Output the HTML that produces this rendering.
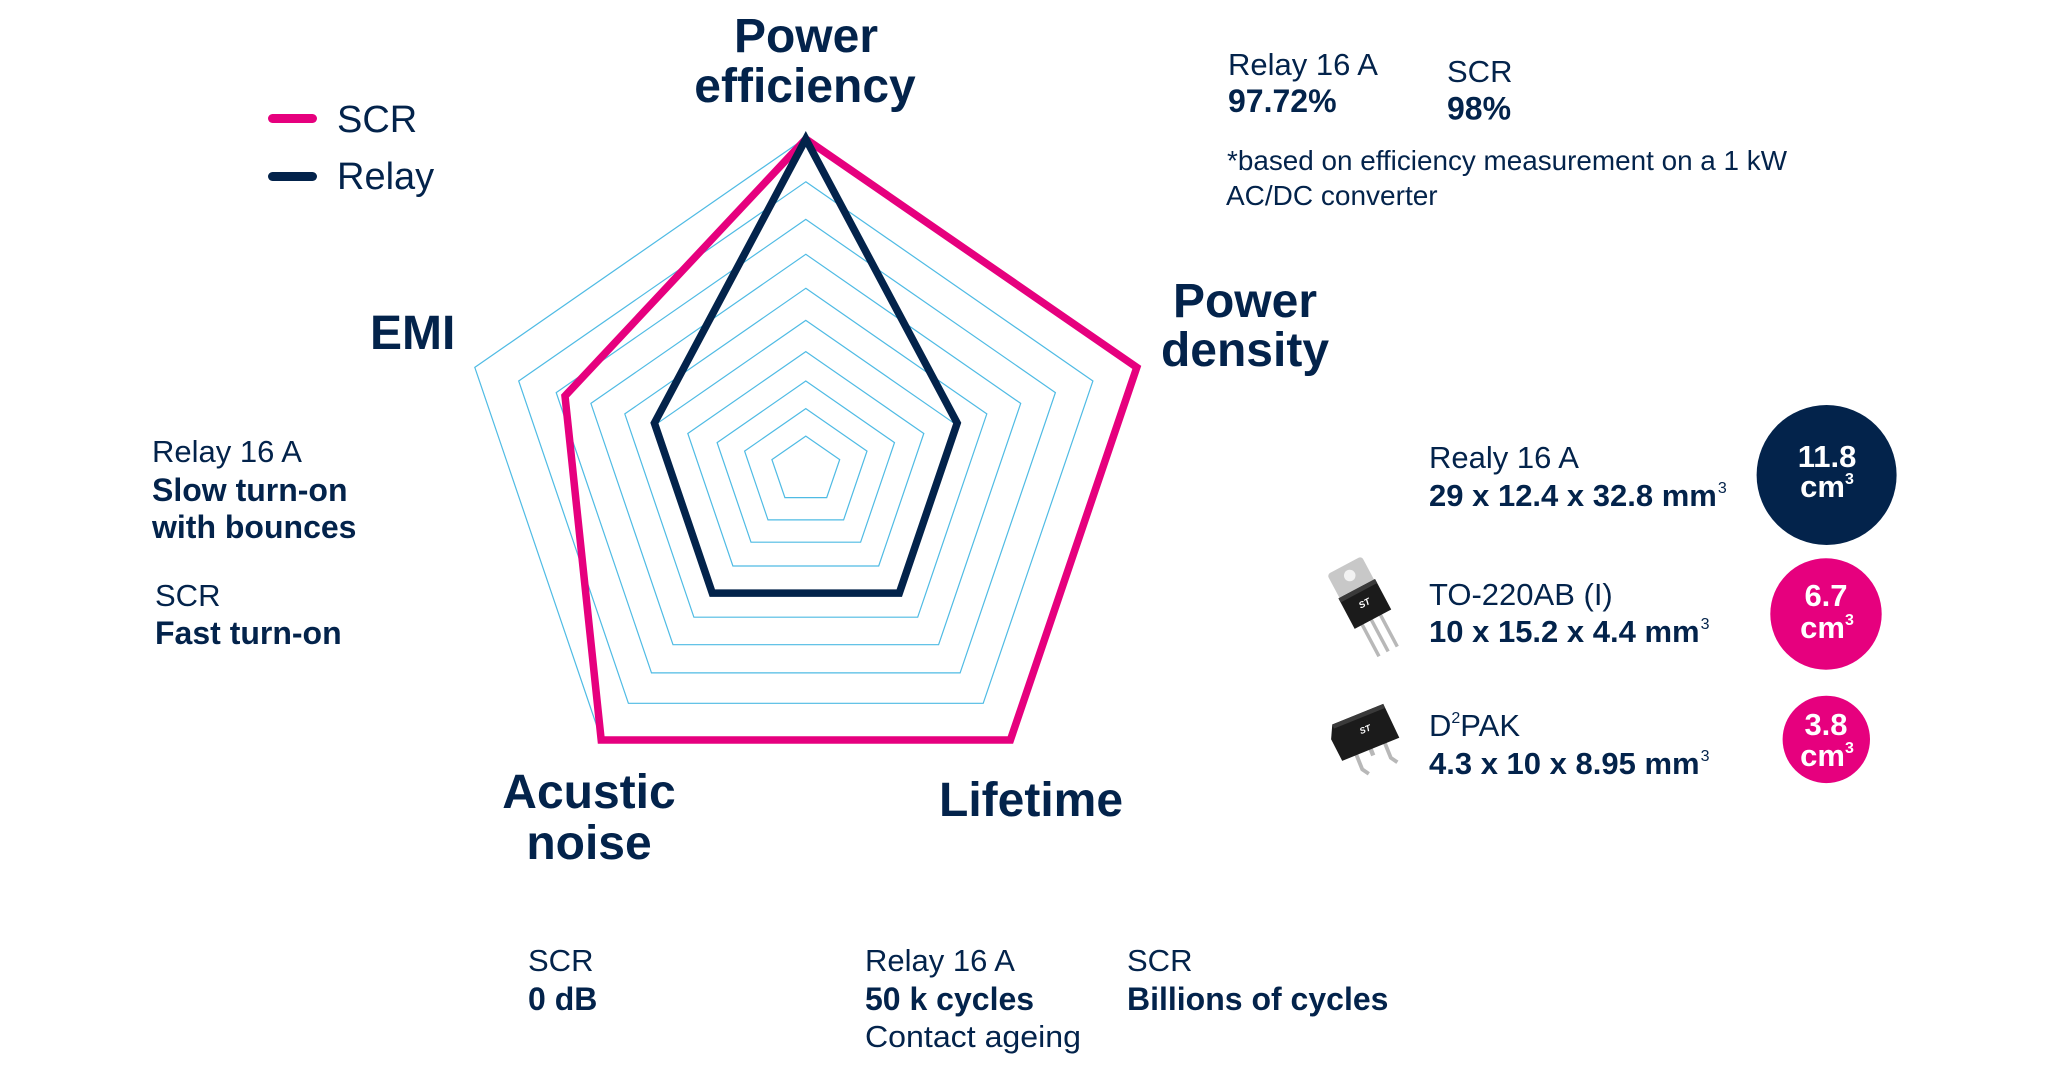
<!DOCTYPE html>
<html>
<head>
<meta charset="utf-8">
<style>
html,body{margin:0;padding:0;background:#fff;}
svg{display:block;}
text{font-family:"Liberation Sans", Arial, sans-serif; fill:#03234B;}
.b{font-weight:bold;}
</style>
</head>
<body>
<svg width="2048" height="1072" viewBox="0 0 2048 1072" xmlns="http://www.w3.org/2000/svg">
<rect width="2048" height="1072" fill="#ffffff"/>

<!-- grid -->
<g fill="none" stroke="#4FBBE4" stroke-width="1.2" stroke-linejoin="miter">
<polygon points="805.8,137.7 1136.8,367.4 1010.4,739.0 601.2,739.0 474.8,367.4"/>
<polygon points="805.8,181.8 1092.9,381.0 983.2,703.3 628.4,703.3 518.7,381.0"/>
<polygon points="805.8,219.4 1055.4,392.6 960.1,672.9 651.5,672.9 556.2,392.6"/>
<polygon points="805.8,254.3 1020.7,403.4 938.6,644.7 673.0,644.7 590.9,403.4"/>
<polygon points="805.8,288.3 986.8,413.9 917.7,617.2 693.9,617.2 624.8,413.9"/>
<polygon points="805.8,320.4 954.9,423.8 897.9,591.2 713.7,591.2 656.7,423.8"/>
<polygon points="805.8,351.6 923.8,433.5 878.7,566.0 732.9,566.0 687.8,433.5"/>
<polygon points="805.8,381.0 894.5,442.6 860.6,542.2 751.0,542.2 717.1,442.6"/>
<polygon points="805.8,408.6 867.0,451.1 843.6,519.9 768.0,519.9 744.6,451.1"/>
<polygon points="805.8,436.1 839.7,459.6 826.7,497.6 784.9,497.6 771.9,459.6"/>
</g>

<!-- SCR -->
<polygon points="805.8,139 1136.8,367.4 1010.4,740 601.2,740 565,396" fill="none" stroke="#E6007E" stroke-width="7.5" stroke-linejoin="miter"/>
<!-- Relay -->
<polygon points="805.8,139 957.2,423.1 899.3,593.1 712.3,593.1 654.4,423.1" fill="none" stroke="#03234B" stroke-width="7.5" stroke-linejoin="miter"/>

<!-- legend -->
<line x1="272.5" y1="118.5" x2="312.5" y2="118.5" stroke="#E6007E" stroke-width="9" stroke-linecap="round"/>
<line x1="272.5" y1="176.5" x2="312.5" y2="176.5" stroke="#03234B" stroke-width="9" stroke-linecap="round"/>
<text x="337" y="132" font-size="38">SCR</text>
<text x="337" y="189" font-size="38">Relay</text>

<!-- axis labels -->
<text class="b" x="806" y="52" font-size="48" text-anchor="middle">Power</text>
<text class="b" x="805" y="102" font-size="48" text-anchor="middle">efficiency</text>
<text class="b" x="1245" y="317" font-size="48" text-anchor="middle">Power</text>
<text class="b" x="1245" y="366" font-size="48" text-anchor="middle">density</text>
<text class="b" x="370" y="349" font-size="48">EMI</text>
<text class="b" x="589" y="808" font-size="48" text-anchor="middle">Acustic</text>
<text class="b" x="589" y="859" font-size="48" text-anchor="middle">noise</text>
<text class="b" x="939" y="816" font-size="48">Lifetime</text>

<!-- top right -->
<text x="1228" y="75" font-size="31">Relay 16 A</text>
<text class="b" x="1228" y="112" font-size="32">97.72%</text>
<text x="1447" y="82" font-size="31">SCR</text>
<text class="b" x="1447" y="119.5" font-size="32">98%</text>
<text x="1227" y="170" font-size="28" textLength="560" lengthAdjust="spacingAndGlyphs">*based on efficiency measurement on a 1 kW</text>
<text x="1226" y="205" font-size="28">AC/DC converter</text>

<!-- left -->
<text x="152" y="462" font-size="31">Relay 16 A</text>
<text class="b" x="152" y="501" font-size="32">Slow turn-on</text>
<text class="b" x="152" y="538" font-size="32">with bounces</text>
<text x="155" y="606" font-size="31">SCR</text>
<text class="b" x="155" y="644" font-size="32">Fast turn-on</text>

<!-- bottom -->
<text x="528" y="971" font-size="31">SCR</text>
<text class="b" x="528" y="1010" font-size="32">0 dB</text>
<text x="865" y="971" font-size="31">Relay 16 A</text>
<text class="b" x="865" y="1010" font-size="32">50 k cycles</text>
<text x="865" y="1047" font-size="31" textLength="216" lengthAdjust="spacingAndGlyphs">Contact ageing</text>
<text x="1127" y="971" font-size="31">SCR</text>
<text class="b" x="1127" y="1010" font-size="32">Billions of cycles</text>

<!-- right side -->
<text x="1429" y="468" font-size="31">Realy 16 A</text>
<text class="b" x="1429" y="506" font-size="31">29 x 12.4 x 32.8 mm<tspan font-size="16" font-weight="normal" dy="-13" dx="1">3</tspan></text>
<text x="1429" y="605" font-size="31">TO-220AB (I)</text>
<text class="b" x="1429" y="642" font-size="31">10 x 15.2 x 4.4 mm<tspan font-size="16" font-weight="normal" dy="-13" dx="1">3</tspan></text>
<text x="1429" y="736" font-size="31">D<tspan font-size="16" dy="-13">2</tspan><tspan dy="13">PAK</tspan></text>
<text class="b" x="1429" y="774" font-size="31">4.3 x 10 x 8.95 mm<tspan font-size="16" font-weight="normal" dy="-13" dx="1">3</tspan></text>

<!-- circles -->
<circle cx="1826.6" cy="475" r="70" fill="#03234B"/>
<circle cx="1826" cy="614" r="55.7" fill="#E6007E"/>
<circle cx="1826.3" cy="739.4" r="43.7" fill="#E6007E"/>
<text class="b" x="1827" y="467" font-size="31" text-anchor="middle" style="fill:#fff">11.8</text>
<text class="b" x="1827" y="497" font-size="31" text-anchor="middle" style="fill:#fff">cm<tspan font-size="16" dy="-13">3</tspan></text>
<text class="b" x="1826" y="606" font-size="31" text-anchor="middle" style="fill:#fff">6.7</text>
<text class="b" x="1827" y="638" font-size="31" text-anchor="middle" style="fill:#fff">cm<tspan font-size="16" dy="-13">3</tspan></text>
<text class="b" x="1826" y="735" font-size="31" text-anchor="middle" style="fill:#fff">3.8</text>
<text class="b" x="1827" y="766" font-size="31" text-anchor="middle" style="fill:#fff">cm<tspan font-size="16" dy="-13">3</tspan></text>

<!-- TO-220 device -->
<g transform="translate(1367,608) rotate(-28) scale(1.15)">
  <rect x="-3" y="10" width="3" height="32" fill="#b8b8b8"/>
  <rect x="-12" y="10" width="3" height="32" fill="#b8b8b8"/>
  <rect x="6" y="10" width="3" height="32" fill="#b8b8b8"/>
  <rect x="-17" y="-42" width="34" height="26" rx="3" fill="#c8c8c8"/>
  <circle cx="0" cy="-32" r="5" fill="#f2f2f2"/>
  <rect x="-18" y="-19" width="36" height="30" fill="#1b1b1b"/>
  <rect x="-18" y="-19" width="36" height="4" fill="#3a3a3a"/>
  <text x="0" y="-2" font-size="8" text-anchor="middle" font-style="italic" font-weight="bold" style="fill:#fff">ST</text>
</g>

<!-- D2PAK device -->
<g transform="translate(1365,735) rotate(-22) scale(1.1)">
  <path d="M-14,12 L-14,28 L-10,34" stroke="#b8b8b8" stroke-width="3.5" fill="none"/>
  <path d="M14,12 L14,28 L18,34" stroke="#b8b8b8" stroke-width="3.5" fill="none"/>
  <rect x="-2" y="12" width="4" height="8" fill="#b8b8b8"/>
  <path d="M-24,-20 L26,-20 L28,14 L-28,14 L-30,-8 Z" fill="#1b1b1b"/>
  <rect x="-24" y="-20" width="50" height="4" fill="#3a3a3a"/>
  <text x="2" y="-2" font-size="8" text-anchor="middle" font-style="italic" font-weight="bold" style="fill:#fff">ST</text>
</g>

</svg>
</body>
</html>
